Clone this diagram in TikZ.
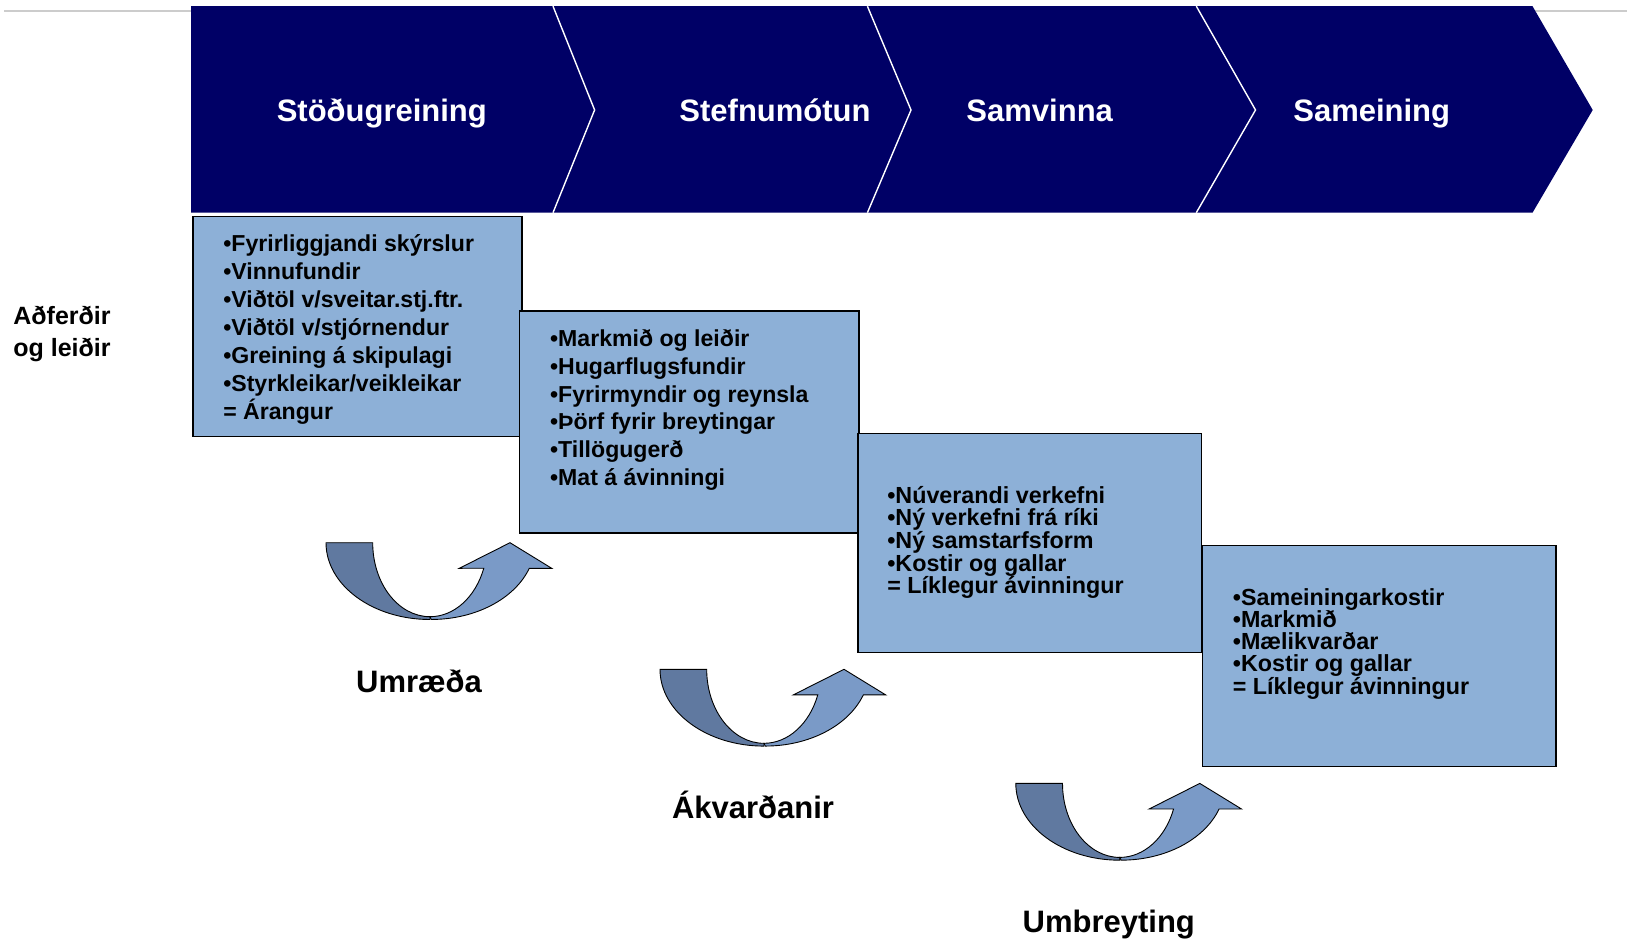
\documentclass[tikz,border=0pt]{standalone}
\usepackage{fontspec}
\setmainfont{Liberation Sans}
\usetikzlibrary{positioning}

\definecolor{navy}{RGB}{0,0,102}
\definecolor{boxblue}{RGB}{141,176,215}
\definecolor{arrdark}{RGB}{96,121,160}
\definecolor{arrlight}{RGB}{122,154,199}

\begin{document}
\begin{tikzpicture}[x=1pt, y=-1pt,
    phase/.style={text=white, anchor=base, font=\bfseries\fontsize{31}{31}\selectfont},
    stepbox/.style={draw=black, line width=1.5pt, fill=boxblue, anchor=north west, inner sep=0pt},
    steptext/.style={anchor=north west, align=left, inner sep=0pt, font=\bfseries\fontsize{23.1}{28}\selectfont,
        execute at begin node={\lineskiplimit=-100pt}},
    steplabel/.style={anchor=base, font=\bfseries\fontsize{31}{31}\selectfont},
    turn/.style={draw=black, line width=0.9pt}
]

    % Page size
    \def\pagew{1627}
    \def\pageh{939}
    \useasboundingbox (0,0) rectangle (\pagew,\pageh);

    % Band, y
    \def\ytop{6.2}
    \def\ybot{212.7}
    \def\ymid{110}
    \def\ybase{121.3}

    % Thin rule behind the band
    \draw[black!20, line width=2pt] (4,11) -- (\pagew,11);

    % Band of phases
    \fill[navy] (191,\ytop) -- (1532.5,\ytop) -- (1592.7,\ymid) -- (1532.5,\ybot) -- (191,\ybot) -- cycle;
    \foreach \sx/\tx in {553/594.6, 867.4/911, 1196.3/1255.5}{
        \draw[white, line width=1.4pt] (\sx,\ytop) -- (\tx,\ymid) -- (\sx,\ybot);
    }
    \node[phase] (stod)   at (381.8,\ybase) {Stöðugreining};
    \node[phase] (stefna) at (775,\ybase)   {Stefnumótun};
    \node[phase] (samv)   at (1039.7,\ybase) {Samvinna};
    \node[phase] (samein) at (1371.7,\ybase) {Sameining};

    % Side label
    \node[align=center, font=\bfseries\fontsize{25}{32}\selectfont] (adf) at (62,333.5) {Aðferðir\\og leiðir};

    % Boxes
    \node[stepbox, minimum width=329pt, minimum height=220pt] (box1) at (192,215.8) {};
    \node[steptext] (txt1) at (223.1,231.4) {\strut•Fyrirliggjandi skýrslur\\•Vinnufundir\\•Viðtöl v/sveitar.stj.ftr.\\•Viðtöl v/stjórnendur\\•Greining á skipulagi\\•Styrkleikar/veikleikar\\= Árangur};

    \node[stepbox, minimum width=339.3pt, minimum height=222.1pt] (box2) at (518.8,310.2) {};
    \node[steptext, font=\bfseries\fontsize{23.1}{27.8}\selectfont] (txt2) at (549.9,326.8) {\strut•Markmið og leiðir\\•Hugarflugsfundir\\•Fyrirmyndir og reynsla\\•Þörf fyrir breytingar\\•Tillögugerð\\•Mat á ávinningi};

    \node[stepbox, minimum width=343.5pt, minimum height=218.9pt] (box3) at (857,432.7) {};
    \node[steptext, font=\bfseries\fontsize{23.3}{22.6}\selectfont] (txt3) at (887.1,486.1) {\strut•Núverandi verkefni\\•Ný verkefni frá ríki\\•Ný samstarfsform\\•Kostir og gallar\\= Líklegur ávinningur};

    \node[stepbox, minimum width=353.9pt, minimum height=221pt] (box4) at (1201.5,544.7) {};
    \node[steptext, font=\bfseries\fontsize{23.3}{22.3}\selectfont] (txt4) at (1232.7,588) {\strut•Sameiningarkostir\\•Markmið\\•Mælikvarðar\\•Kostir og gallar\\= Líklegur ávinningur};

    % Turning arrows
    \foreach \dx/\dy/\nm/\txt in {326/542.7/umr/Umræða, 660/669.3/akv/Ákvarðanir, 1015.8/783.4/umb/Umbreyting}{
        \begin{scope}[shift={(\dx,\dy)}]
            \coordinate (\nm) at (0,0);
            \filldraw[turn, fill=arrdark] (0,0) arc[start angle=180, end angle=90, x radius=104, y radius=76.8]
                -- (104,74) arc[start angle=90, end angle=180, x radius=57.3, y radius=74] -- cycle;
            \filldraw[turn, fill=arrlight] (104,74) arc[start angle=90, end angle=20.2, x radius=57.3, y radius=74]
                -- (133.3,25.6) -- (184,0) -- (225.7,25.6) -- (203.3,25.6)
                arc[start angle=19.5, end angle=90, x radius=104, y radius=76.8] -- cycle;
            \node[steplabel] (\nm-lab) at (93,149.3) {\txt};
        \end{scope}
    }

\end{tikzpicture}
\end{document}
